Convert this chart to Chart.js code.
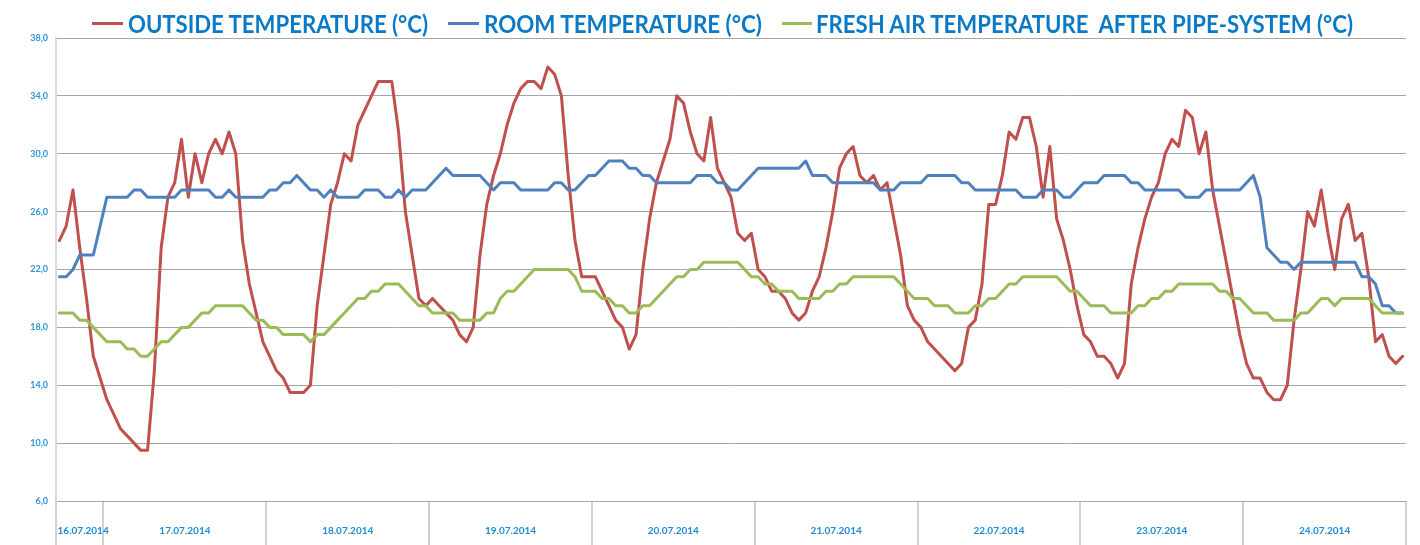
<!DOCTYPE html>
<html>
<head>
<meta charset="utf-8">
<script src="https://cdn.jsdelivr.net/npm/chart.js@4.4.1/dist/chart.umd.min.js"></script>
<style>
html,body{margin:0;padding:0;background:#fff;}
#wrap{position:relative;width:1420px;height:545px;overflow:hidden;background:#fff;}
canvas{position:absolute;left:0;top:0;}
#legend{position:absolute;left:0;top:0;width:1420px;height:38px;}
.lg-mark{position:absolute;height:3px;top:22px;}
.lg-text{position:absolute;top:11px;font-family:Lato,"Open Sans",sans-serif;font-weight:700;font-size:25px;line-height:25px;color:#0b7ac6;white-space:pre;transform-origin:0 50%;}
</style>
</head>
<body>
<div id="wrap">
  <canvas id="c" width="1420" height="545"></canvas>
  <div id="legend"></div>
</div>
<script>
// ---- data ----
const days = ['16.07.2014','17.07.2014','18.07.2014','19.07.2014','20.07.2014','21.07.2014','22.07.2014','23.07.2014','24.07.2014'];
const hoursPerDay = [7,24,24,24,24,24,24,24,24];
const firstHour = [17,0,0,0,0,0,0,0,0];

const seriesNames = ['OUTSIDE TEMPERATURE (°C)','ROOM TEMPERATURE (°C)','FRESH AIR TEMPERATURE  AFTER PIPE-SYSTEM (°C)'];

const outside = [
  24,25,27.5,23.5,20,16,14.5,
  13,12,11,10.5,10,9.5,9.5,15,23.5,27,28,31,27,30,28,30,31,30,31.5,30,24,21,19,17,
  16,15,14.5,13.5,13.5,13.5,14,19.5,23,26.5,28,30,29.5,32,33,34,35,35,35,31.5,26,23,20,19.5,
  20,19.5,19,18.5,17.5,17,18,23,26.5,28.5,30,32,33.5,34.5,35,35,34.5,36,35.5,34,28.5,24,21.5,21.5,
  21.5,20.5,19.5,18.5,18,16.5,17.5,22,25.5,28,29.5,31,34,33.5,31.5,30,29.5,32.5,29,28,27,24.5,24,24.5,
  22,21.5,20.5,20.5,20,19,18.5,19,20.5,21.5,23.5,26,29,30,30.5,28.5,28,28.5,27.5,28,25.5,23,19.5,18.5,
  18,17,16.5,16,15.5,15,15.5,18,18.5,21,26.5,26.5,28.5,31.5,31,32.5,32.5,30.5,27,30.5,25.5,24,22,19.5,
  17.5,17,16,16,15.5,14.5,15.5,21,23.5,25.5,27,28,30,31,30.5,33,32.5,30,31.5,27.5,25,22.5,20,17.5,
  15.5,14.5,14.5,13.5,13,13,14,18.5,22,26,25,27.5,24.5,22,25.5,26.5,24,24.5,21.5,17,17.5,16,15.5,16
];
const room = [
  21.5,21.5,22,23,23,23,25,
  27,27,27,27,27.5,27.5,27,27,27,27,27,27.5,27.5,27.5,27.5,27.5,27,27,27.5,27,27,27,27,27,
  27.5,27.5,28,28,28.5,28,27.5,27.5,27,27.5,27,27,27,27,27.5,27.5,27.5,27,27,27.5,27,27.5,27.5,27.5,
  28,28.5,29,28.5,28.5,28.5,28.5,28.5,28,27.5,28,28,28,27.5,27.5,27.5,27.5,27.5,28,28,27.5,27.5,28,28.5,
  28.5,29,29.5,29.5,29.5,29,29,28.5,28.5,28,28,28,28,28,28,28.5,28.5,28.5,28,28,27.5,27.5,28,28.5,
  29,29,29,29,29,29,29,29.5,28.5,28.5,28.5,28,28,28,28,28,28,28,27.5,27.5,27.5,28,28,28,
  28,28.5,28.5,28.5,28.5,28.5,28,28,27.5,27.5,27.5,27.5,27.5,27.5,27.5,27,27,27,27.5,27.5,27.5,27,27,27.5,
  28,28,28,28.5,28.5,28.5,28.5,28,28,27.5,27.5,27.5,27.5,27.5,27.5,27,27,27,27.5,27.5,27.5,27.5,27.5,27.5,
  28,28.5,27,23.5,23,22.5,22.5,22,22.5,22.5,22.5,22.5,22.5,22.5,22.5,22.5,22.5,21.5,21.5,21,19.5,19.5,19,19
];
const fresh = [
  19,19,19,18.5,18.5,18,17.5,
  17,17,17,16.5,16.5,16,16,16.5,17,17,17.5,18,18,18.5,19,19,19.5,19.5,19.5,19.5,19.5,19,18.5,18.5,
  18,18,17.5,17.5,17.5,17.5,17,17.5,17.5,18,18.5,19,19.5,20,20,20.5,20.5,21,21,21,20.5,20,19.5,19.5,
  19,19,19,19,18.5,18.5,18.5,18.5,19,19,20,20.5,20.5,21,21.5,22,22,22,22,22,22,21.5,20.5,20.5,
  20.5,20,20,19.5,19.5,19,19,19.5,19.5,20,20.5,21,21.5,21.5,22,22,22.5,22.5,22.5,22.5,22.5,22.5,22,21.5,
  21.5,21,21,20.5,20.5,20.5,20,20,20,20,20.5,20.5,21,21,21.5,21.5,21.5,21.5,21.5,21.5,21.5,21,20.5,20,
  20,20,19.5,19.5,19.5,19,19,19,19.5,19.5,20,20,20.5,21,21,21.5,21.5,21.5,21.5,21.5,21.5,21,20.5,20.5,
  20,19.5,19.5,19.5,19,19,19,19,19.5,19.5,20,20,20.5,20.5,21,21,21,21,21,21,20.5,20.5,20,20,
  19.5,19,19,19,18.5,18.5,18.5,18.5,19,19,19.5,20,20,19.5,20,20,20,20,20,19.5,19,19,19,19
];
const yTickValues = [6,10,14,18,22,26,30,34,38];

// ---- categories (one per hour) ----
const categories = [];
const dayLabelAt = [];
const dayBoundaries = new Set();
let start = 0;
days.forEach((d, k) => {
  const n = hoursPerDay[k];
  dayBoundaries.add(start);
  for (let h = 0; h < n; h++) {
    const hh = String(firstHour[k] + h).padStart(2, '0');
    categories.push(d + ' ' + hh + ':00');
    dayLabelAt.push('');
  }
  dayLabelAt[start + Math.round(n / 2 - 1)] = d;
  start += n;
});

const colors = ['#c0504d', '#4f81bd', '#9bbb59'];
const seriesData = [outside, room, fresh];

// ---- HTML legend ----
const legendLayout = [
  {mark: [92, 123], text: [128, 428]},
  {mark: [448, 479], text: [484, 762]},
  {mark: [782, 812], text: [816, 1353]}
];
const legendEl = document.getElementById('legend');
seriesNames.forEach((name, i) => {
  const L = legendLayout[i];
  const m = document.createElement('div');
  m.className = 'lg-mark';
  m.style.left = L.mark[0] + 'px';
  m.style.width = (L.mark[1] - L.mark[0]) + 'px';
  m.style.background = colors[i];
  legendEl.appendChild(m);
  const t = document.createElement('span');
  t.className = 'lg-text';
  t.textContent = name;
  t.style.left = L.text[0] + 'px';
  legendEl.appendChild(t);
  const w = t.getBoundingClientRect().width;
  if (w > 0) t.style.transform = 'scaleX(' + ((L.text[1] - L.text[0]) / w) + ')';
});

// ---- chart ----
new Chart(document.getElementById('c'), {
  type: 'line',
  data: {
    labels: categories,
    datasets: seriesData.map((arr, i) => ({
      label: seriesNames[i],
      data: arr,
      borderColor: colors[i],
      backgroundColor: colors[i],
      borderWidth: 3,
      pointRadius: 0,
      pointHoverRadius: 0,
      tension: 0,
      fill: false,
      borderJoinStyle: 'round',
      borderCapStyle: 'round',
      order: 2 - i
    }))
  },
  options: {
    responsive: false,
    animation: false,
    devicePixelRatio: 1,
    layout: {padding: {left: 0, right: 14, top: 38, bottom: 0}},
    plugins: {legend: {display: false}, tooltip: {enabled: false}},
    events: [],
    scales: {
      x: {
        type: 'category',
        offset: true,
        grid: {
          offset: true,
          drawOnChartArea: false,
          drawTicks: true,
          tickLength: 44,
          lineWidth: 2,
          color: (ctx) => (ctx.index === undefined || dayBoundaries.has(ctx.index)) ? '#d0d0d0' : 'rgba(0,0,0,0)'
        },
        border: {display: true, color: '#a6a6a6', width: 1},
        ticks: {
          autoSkip: false,
          maxRotation: 0,
          minRotation: 0,
          labelOffset: 3.4,
          padding: -20,
          color: '#1f8bd3',
          font: {family: 'Lato', weight: 'bold', size: 10},
          callback: (v, i) => dayLabelAt[i] || ''
        },
        afterFit: (s) => { s.height = 44; }
      },
      y: {
        min: 6,
        max: 38,
        afterBuildTicks: (s) => { s.ticks = yTickValues.map(v => ({value: v})); },
        grid: {color: '#a6a6a6', lineWidth: 1, drawTicks: false},
        border: {display: true, color: '#d9d9d9', width: 2},
        ticks: {
          padding: 8,
          color: '#2e95d9',
          font: {family: 'Lato', weight: 'bold', size: 9},
          callback: (v) => Number(v).toFixed(1).replace('.', ',')
        },
        afterFit: (s) => { s.width = 56; }
      }
    }
  }
});
</script>
</body>
</html>
